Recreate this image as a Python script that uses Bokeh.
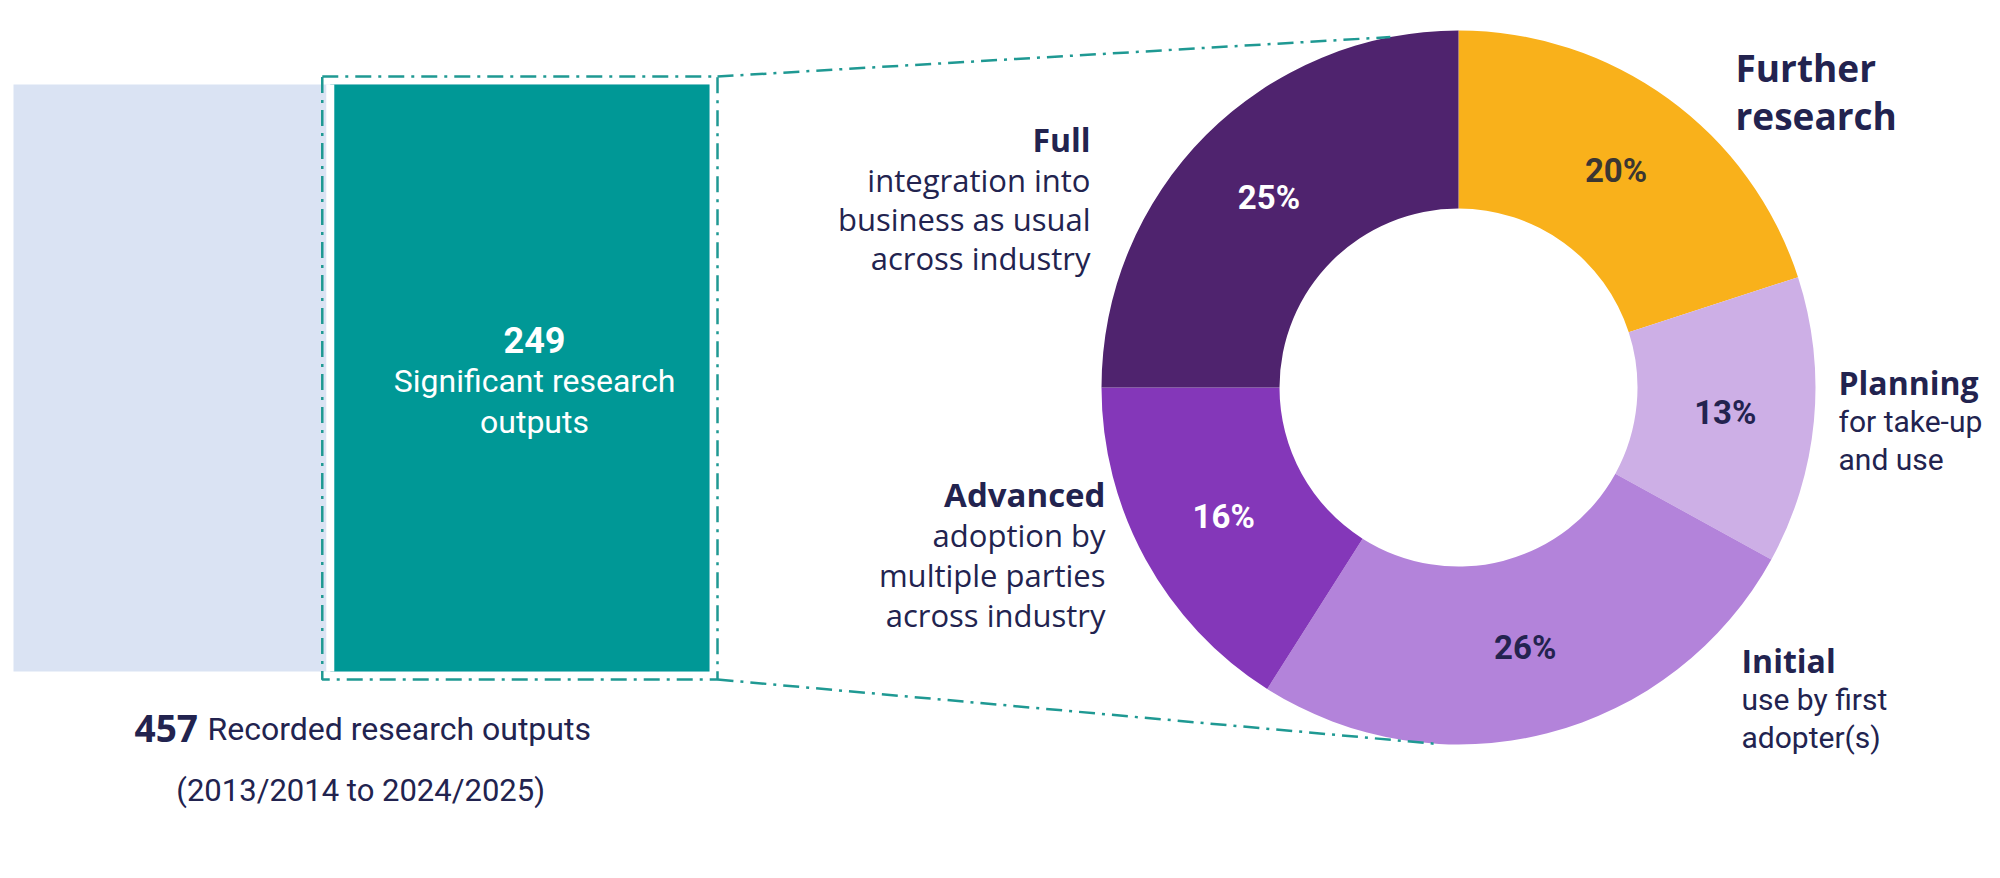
import numpy as np
from bokeh.plotting import figure
from bokeh.models import Range1d, ColumnDataSource
from bokeh.core.properties import value
from bokeh.embed import file_html
from bokeh.resources import INLINE

# ---------------- data ----------------
total_outputs = 457
significant_outputs = 249
total_label = "Recorded research outputs"
significant_label = ["Significant research", "outputs"]
period_label = "(2013/2014  to 2024/2025)"

stages = ["Further research", "Planning", "Initial", "Advanced", "Full"]
shares = [20, 13, 26, 16, 25]
stage_titles = [["Further", "research"], ["Planning"], ["Initial"], ["Advanced"], ["Full"]]
stage_desc = [[], ["for take-up", "and use"], ["use by first", "adopter(s)"],
              ["adoption by", "multiple parties", "across industry"],
              ["integration into", "business as usual", "across industry"]]

# ---------------- styles ----------------
slice_colors = ["#F9B11B", "#CDAFE6", "#B383DA", "#8437B9", "#4F236E"]
pct_colors = ["#3B3632", "#23234F", "#23234F", "#FFFFFF", "#FFFFFF"]
NAVY = "#22234F"
TEAL = "#009896"
LIGHT = "#DAE3F3"
DASH = "#1F9993"
REG = value("Roboto")
BOLD = value("Open Sans")
WIDE = value("Open Sans")

W, H = 2000, 878
BAR_L, BAR_R = 13, 709                      # image px of the total bar
S = (BAR_R - BAR_L) / total_outputs         # px per output
TXT_DY = -13                                # baseline correction for texts


def X(ximg):
    return (ximg - BAR_L) / S


def Y(yimg):
    return H - yimg


p = figure(width=W, height=H, output_backend="svg", toolbar_location=None,
           x_range=Range1d(X(0), X(W)), y_range=Range1d(0, H), min_border=0)
p.axis.visible = False
p.grid.visible = False
p.outline_line_color = None
p.background_fill_color = "white"
p.border_fill_color = "white"

# ---------------- bars ----------------
BAR_TOP, BAR_BOT = 84, 671
sig_left = total_outputs - significant_outputs
p.quad(left=[0], right=[total_outputs], bottom=[Y(BAR_BOT)], top=[Y(BAR_TOP)],
       fill_color=LIGHT, line_color=None)
p.quad(left=[sig_left], right=[total_outputs],
       bottom=[Y(BAR_BOT)], top=[Y(BAR_TOP)], fill_color=TEAL, line_color=None)
p.segment(x0=[sig_left], x1=[sig_left], y0=[Y(BAR_BOT)], y1=[Y(BAR_TOP)],
          line_color="white", line_width=8)

# dashed box around significant bar
pad = 8
bx0 = BAR_L + sig_left * S - pad
bx1 = BAR_R + pad
by0, by1 = BAR_TOP - pad, BAR_BOT + pad
p.quad(left=[X(bx0)], right=[X(bx1)], bottom=[Y(by1)], top=[Y(by0)],
       fill_color=None, line_color=DASH, line_width=2.5, line_dash="16 7 3 7")

# ---------------- donut ----------------
CX, CY = 1458, 387
R_OUT, R_IN = 357, 179
frac = np.array(shares, dtype=float) / sum(shares)
cum = np.concatenate([[0], np.cumsum(frac)])
start = np.pi / 2 - 2 * np.pi * cum[1:]
end = np.pi / 2 - 2 * np.pi * cum[:-1]
src = ColumnDataSource(dict(start=start, end=end, color=slice_colors))
p.annular_wedge(x=X(CX), y=Y(CY), inner_radius=R_IN, outer_radius=R_OUT,
                inner_radius_units="screen", outer_radius_units="screen",
                start_angle="start", end_angle="end", direction="anticlock",
                fill_color="color", line_color=None, source=src)

# connectors
a_top, a_bot = np.deg2rad(101), np.deg2rad(-94)
p.segment(x0=[X(bx1), X(bx1)], y0=[Y(by0), Y(by1)],
          x1=[X(CX + R_OUT * np.cos(a_top)), X(CX + R_OUT * np.cos(a_bot))],
          y1=[Y(CY - R_OUT * np.sin(a_top)), Y(CY - R_OUT * np.sin(a_bot))],
          line_color=DASH, line_width=2.5, line_dash="16 7 3 7")

# percentage labels
mid = (start + end) / 2
r_mid = (R_IN + R_OUT) / 2
psrc = ColumnDataSource(dict(
    x=[X(CX + r_mid * np.cos(a)) for a in mid],
    y=[Y(CY - r_mid * np.sin(a)) for a in mid],
    t=[f"{s}%" for s in shares], c=pct_colors))
p.text(x="x", y="y", text="t", text_color="c", source=psrc, text_font=REG,
       text_font_style="bold", text_font_size="33px", text_align="center",
       text_baseline="middle")


def put(x, y, t, size, bold=False, align="left", color=NAVY, font=REG):
    p.text(x=[X(x)], y=[Y(y + TXT_DY)], text=[t], text_font=font, text_font_size=size,
           text_font_style="bold" if bold else "normal", text_color=color,
           text_align=align, text_baseline="alphabetic")


# category labels (y = baseline)
put(1735, 80, stage_titles[0][0], "37px", bold=True, font=BOLD)
put(1735, 128, stage_titles[0][1], "37px", bold=True, font=BOLD)

put(1838, 395, stage_titles[1][0], "32px", bold=True, font=BOLD)
for i, t in enumerate(stage_desc[1]):
    put(1838, 434 + 38 * i, t, "30px")

put(1741, 673, stage_titles[2][0], "32px", bold=True, font=BOLD)
for i, t in enumerate(stage_desc[2]):
    put(1741, 712 + 38 * i, t, "30px")

put(1105, 507, stage_titles[3][0], "33px", bold=True, align="right", font=WIDE)
for i, t in enumerate(stage_desc[3]):
    put(1105, 547 + 40 * i, t, "31px", align="right", font=WIDE)

put(1090, 152, stage_titles[4][0], "32px", bold=True, align="right", font=WIDE)
for i, t in enumerate(stage_desc[4]):
    put(1090, 192 + 39 * i, t, "31px", align="right", font=WIDE)

# teal bar text
tcx = 534
put(tcx, 352, str(significant_outputs), "36px", bold=True, align="center", color="white")
put(tcx, 393, significant_label[0], "32px", align="center", color="white")
put(tcx, 434, significant_label[1], "32px", align="center", color="white")

# bottom text
put(134, 741, str(total_outputs), "37px", bold=True, font=BOLD)
put(207, 741, total_label, "32px")
put(364, 803, period_label, "31px", align="center")

open("out.html", "w").write(file_html(p, INLINE))
